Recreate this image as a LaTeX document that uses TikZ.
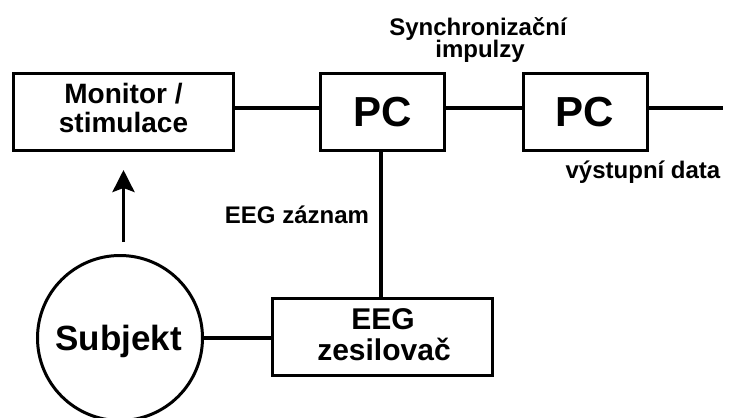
\documentclass[tikz,border=0pt]{standalone}
\usepackage{fontspec}
\setmainfont{Liberation Sans}
\usetikzlibrary{arrows.meta}
\tikzset{
  box/.style={draw, line width=3pt, rectangle, inner sep=0pt},
  conn/.style={line width=3.5pt},
  txt/.style={inner sep=0pt, anchor=base, font=\bfseries\fontsize{#1}{#1}\selectfont},
}
\begin{document}
\begin{tikzpicture}[x=1pt,y=-1pt]
\useasboundingbox (0,0) rectangle (732,418);
\fill[white] (0,0) rectangle (732,418);
% boxes
\node[box, minimum width=220pt, minimum height=77pt] (mon) at (123.5,112) {};
\node[box, minimum width=124pt, minimum height=77pt] (pc1) at (382.5,112) {};
\node[box, minimum width=124pt, minimum height=77pt] (pc2) at (585.5,112) {};
\node[box, minimum width=220pt, minimum height=77pt] (eeg) at (382.5,337) {};
\node[box, circle, minimum size=165pt] (subj) at (120,338) {};
\coordinate (out) at (723,108);
% texts
\node[txt=28] (t1) at (123.5,103) {Monitor /};
\node[txt=28] (t2) at (123.5,132) {stimulace};
\node[txt=42] (t3) at (382.5,126) {PC};
\node[txt=42] (t4) at (585,126) {PC};
\node[txt=30] (t5) at (383,329) {EEG};
\node[txt=30] (t6) at (384,360) {zesilovač};
\node[txt=35] (t7) at (118.5,350) {Subjekt};
\node[txt=24] (t8) at (478,35) {Synchronizační};
\node[txt=24] (t9) at (480,57) {impulzy};
\node[txt=24] (t10) at (643,178) {výstupní data};
\node[txt=24] (t11) at (297,223) {EEG záznam};
% connectors
\draw[conn] ([yshift=4pt]mon.east) -- ([yshift=4pt]pc1.west);
\draw[conn] ([yshift=4pt]pc1.east) -- ([yshift=4pt]pc2.west);
\draw[conn] ([yshift=4pt]pc2.east) -- (out);
\draw[conn] ([xshift=-1.5pt]pc1.south) -- ([xshift=-1.5pt]eeg.north);
\draw[conn] (subj.east) -- (subj.east -| eeg.west);
\draw[conn, -{Stealth[length=22pt,width=22pt,inset=4pt]}, shorten <=12pt, shorten >=18pt] (mon.south |- subj.north) -- (mon.south);
\end{tikzpicture}
\end{document}
